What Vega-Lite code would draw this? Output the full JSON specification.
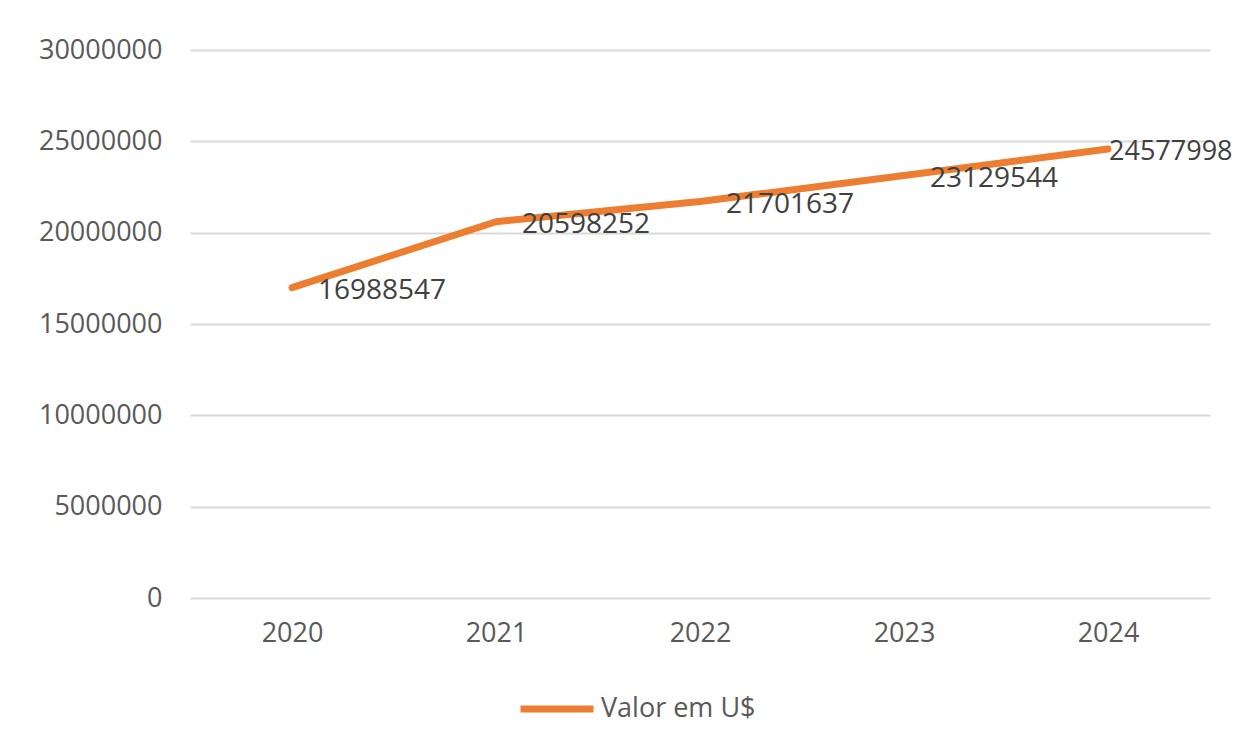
{
  "$schema": "https://vega.github.io/schema/vega-lite/v6.json",
  "width": 1020,
  "height": 548,
  "autosize": {"type": "none"},
  "padding": {"left": 190, "top": 50, "right": 25, "bottom": 150},
  "background": "white",
  "config": {"view": {"stroke": null}, "font": "Open Sans"},
  "data": {"values": [
    {"year": "2020", "value": 16988547},
    {"year": "2021", "value": 20598252},
    {"year": "2022", "value": 21701637},
    {"year": "2023", "value": 23129544},
    {"year": "2024", "value": 24577998}
  ]},
  "encoding": {
    "x": {"field": "year", "type": "ordinal", "title": null,
      "scale": {"type": "point", "padding": 0.5},
      "axis": {"labelAngle": 0, "domain": false, "ticks": false, "labelPadding": 22, "labelFontSize": 27, "labelColor": "#595959", "labelFont": "Open Sans"}},
    "y": {"field": "value", "type": "quantitative", "title": null,
      "scale": {"domain": [0, 30000000], "nice": false},
      "axis": {"values": [0, 5000000, 10000000, 15000000, 20000000, 25000000, 30000000], "format": "d", "domain": false, "ticks": false, "labelPadding": 28, "labelFontSize": 27, "labelColor": "#595959", "labelFont": "Open Sans", "grid": true, "gridColor": "#d9d9d9", "gridWidth": 2}}
  },
  "layer": [
    {
      "mark": {"type": "line", "strokeWidth": 7, "strokeCap": "round", "strokeJoin": "round"},
      "encoding": {
        "color": {"datum": "Valor em U$", "type": "nominal", "scale": {"range": ["#ED7D31"]},
          "legend": {"title": null, "orient": "none", "legendX": 327, "legendY": 619, "symbolType": "stroke", "symbolSize": 5329, "symbolStrokeWidth": 7, "labelFontSize": 27, "labelColor": "#595959", "labelFont": "Open Sans", "labelOffset": 4, "padding": 0}}
      }
    },
    {
      "transform": [{"filter": "datum.year != '2024'"}],
      "mark": {"type": "text", "align": "left", "baseline": "middle", "dx": 26, "dy": 3, "fontSize": 28, "color": "#404040", "font": "Open Sans"},
      "encoding": {"text": {"field": "value", "type": "quantitative", "format": "d"}}
    },
    {
      "transform": [{"filter": "datum.year == '2024'"}],
      "mark": {"type": "text", "align": "left", "baseline": "middle", "dx": 1, "dy": 3, "fontSize": 27, "color": "#404040", "font": "Open Sans"},
      "encoding": {"text": {"field": "value", "type": "quantitative", "format": "d"}}
    }
  ]
}
